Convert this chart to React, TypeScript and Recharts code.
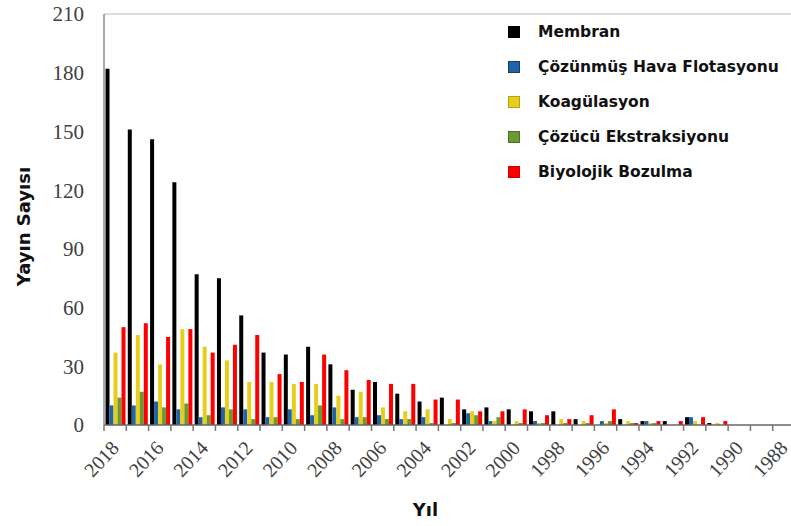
import { BarChart, Bar, XAxis, YAxis, ReferenceLine, Label } from 'recharts'

// publication counts per year, newest first
const years = [
  2018, 2017, 2016, 2015, 2014, 2013, 2012, 2011, 2010, 2009, 2008,
  2007, 2006, 2005, 2004, 2003, 2002, 2001, 2000, 1999, 1998, 1997,
  1996, 1995, 1994, 1993, 1992, 1991, 1990, 1989, 1988,
]
const membran = [182, 151, 146, 124, 77, 75, 56, 37, 36, 40, 31, 18, 22, 16, 12, 14, 8, 9, 8, 7, 7, 3, 0, 3, 2, 2, 4, 1, 0, 0, 0]
const flotasyon = [10, 10, 12, 8, 4, 9, 8, 4, 8, 5, 9, 4, 5, 3, 4, 0, 6, 2, 0, 2, 0, 0, 2, 0, 2, 0, 4, 0, 0, 0, 0]
const koagulasyon = [37, 46, 31, 49, 40, 33, 22, 22, 21, 21, 15, 17, 9, 7, 8, 3, 7, 2, 2, 1, 3, 2, 1, 2, 1, 0, 2, 1, 0, 0, 0]
const ekstraksiyon = [14, 17, 9, 11, 5, 8, 3, 4, 3, 10, 3, 4, 3, 3, 1, 1, 5, 4, 1, 1, 1, 1, 2, 1, 1, 0, 0, 0, 0, 0, 0]
const bozulma = [50, 52, 45, 49, 37, 41, 46, 26, 22, 36, 28, 23, 21, 21, 13, 13, 7, 7, 8, 5, 3, 5, 8, 1, 2, 2, 4, 2, 0, 0, 0]

const yTicks = [0, 30, 60, 90, 120, 150, 180, 210]

const series = [
  { key: 'membran', name: 'Membran', color: '#000000', edge: '#000000' },
  { key: 'flotasyon', name: 'Çözünmüş Hava Flotasyonu', color: '#1f64a8', edge: '#163f66' },
  { key: 'koagulasyon', name: 'Koagülasyon', color: '#e6cf1c', edge: '#b9a010' },
  { key: 'ekstraksiyon', name: 'Çözücü Ekstraksiyonu', color: '#6a9a32', edge: '#4c7023' },
  { key: 'bozulma', name: 'Biyolojik Bozulma', color: '#ff0000', edge: '#d00000' },
]

const data = years.map((y, i) => ({
  year: String(y),
  membran: membran[i],
  flotasyon: flotasyon[i],
  koagulasyon: koagulasyon[i],
  ekstraksiyon: ekstraksiyon[i],
  bozulma: bozulma[i],
}))

const CHART_W = 800
const CHART_H = 526
const M = { top: 14, right: 5, bottom: 40, left: 0 }
const Y_W = 104
const PLOT_W = CHART_W - M.left - M.right - Y_W
const BAND = PLOT_W / years.length

const SANS = '"DejaVu Sans", sans-serif'
const SERIF = '"Liberation Serif", "Times New Roman", serif'

// tick marks sit on the category boundaries, labels on every other year
const YearTick = (props: any) => {
  const { x, y, payload, index } = props
  const left = x - BAND / 2
  const ax = x + 5
  const ay = y + 24
  return (
    <g>
      <line x1={left} y1={y} x2={left} y2={y + 6} stroke="#777" strokeWidth={1.5} />
      {index % 2 === 0 && (
        <text x={ax} y={ay} transform={`rotate(-47 ${ax} ${ay})`} textAnchor="end"
          fill="#404040" fontSize={20} fontFamily={SERIF}>
          {payload.value}
        </text>
      )}
    </g>
  )
}

const LegendBox = () => (
  <div style={{ position: 'absolute', left: 508, top: 14, fontFamily: SANS, fontWeight: 'bold', fontSize: 15.5, color: '#111' }}>
    {series.map(s => (
      <div key={s.key} style={{ display: 'flex', alignItems: 'center', height: 35 }}>
        <span style={{ display: 'inline-block', width: 10, height: 10, background: s.color, border: `1px solid ${s.edge}`, marginRight: 18 }} />
        <span>{s.name}</span>
      </div>
    ))}
  </div>
)

export default function App() {
  return (
    <div style={{ position: 'absolute', left: 0, top: 0, width: 791, height: 526, overflow: 'hidden', background: '#fff' }}>
      <BarChart width={CHART_W} height={CHART_H} data={data} margin={M} barCategoryGap={1.5} barGap={0}>
        <ReferenceLine y={210} stroke="#d0d0d0" strokeWidth={1.5} />
        <XAxis dataKey="year" interval={0} tickSize={0} tickMargin={0} tickLine={false}
          axisLine={{ stroke: '#666', strokeWidth: 1.5 }} tick={<YearTick />} height={CHART_H - M.bottom - M.top - 411}>
          <Label content={({ viewBox }: any) => (
            <text x={viewBox.x + viewBox.width / 2 - 24} y={516} textAnchor="middle"
              fontFamily={SANS} fontWeight="bold" fontSize={18} fill="#111">Yıl</text>
          )} />
        </XAxis>
        <YAxis width={Y_W} domain={[0, 210]} ticks={yTicks} interval={0} tickLine={false}
          tickMargin={14} axisLine={{ stroke: '#8c8c8c', strokeWidth: 1.5 }}
          tick={{ fill: '#404040', fontSize: 21, fontFamily: SERIF }}>
          <Label content={({ viewBox }: any) => {
            const cx = 23
            const cy = viewBox.y + viewBox.height / 2 + 7
            return (
              <text x={cx} y={cy} transform={`rotate(-90 ${cx} ${cy})`} textAnchor="middle"
                dominantBaseline="central" fontFamily={SANS} fontWeight="bold" fontSize={18} fill="#111">
                Yayın Sayısı
              </text>
            )
          }} />
        </YAxis>
        {series.map(s => (
          <Bar key={s.key} dataKey={s.key} name={s.name} fill={s.color} isAnimationActive={false} />
        ))}
      </BarChart>
      <LegendBox />
    </div>
  )
}
